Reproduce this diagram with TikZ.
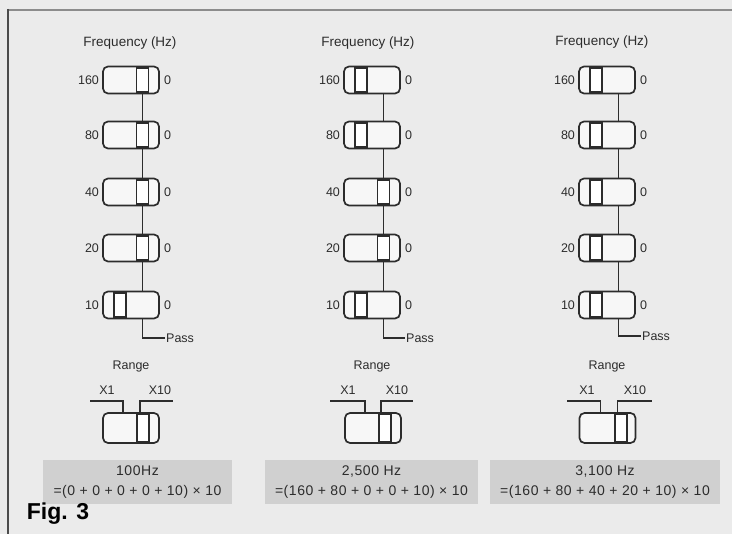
\documentclass[tikz,border=0pt]{standalone}
\usepackage{fontspec}
\setmainfont{Liberation Sans}
\usepackage{xcolor}
\usepackage{tikz}
\usetikzlibrary{positioning,calc}
\definecolor{paper}{HTML}{EBEBEB}
\definecolor{resgray}{HTML}{D0D0D0}
\definecolor{ink}{HTML}{2C2C2C}

\begin{document}
\begin{tikzpicture}[x=1pt,y=-1pt,
  sw/.style={draw=ink,line width=1.7pt,rounded corners=5pt,fill=paper!40!white,minimum width=56pt,minimum height=27pt,inner sep=0pt},
  kn/.style={draw=ink,line width=1.6pt,fill=white,minimum width=12pt,minimum height=24pt,inner sep=0pt},
  lab/.style={font=\fontsize{12.5}{14}\selectfont,text=ink,inner sep=1pt},
  head/.style={font=\fontsize{13.5}{15}\selectfont,text=ink,inner sep=1pt},
  wire/.style={draw=ink,line width=1.1pt},
  res/.style={fill=resgray,minimum height=44pt,align=center,font=\fontsize{14}{20}\selectfont\addfontfeature{LetterSpace=4},text=ink,inner sep=0pt},
  fig/.style={font=\fontsize{23}{25}\selectfont\bfseries,inner sep=0pt}]
  \useasboundingbox[fill=paper] (0,0) rectangle (732,534);
  \draw[black!45,line width=2.5pt] (7,10) -- (732,10);
  \draw[black!70,line width=2pt] (8,9) -- (8,534);

  \node[head] (ahead) at (130,43) {Frequency (Hz)};
  \foreach \v/\y/\s in {160/80/11.5,80/135/11.5,40/192/11.5,20/248/11.5,10/305/-11}{
    \node[sw] (a\v) at (131,\y) {};
    \node[kn] (ak\v) at (131+\s,\y) {};
    \node[lab,left=2pt of a\v] (al\v) {\v};
    \node[lab,right=3pt of a\v] (ar\v) {0};
  }
  \foreach \u/\l in {160/80,80/40,40/20,20/10}
    \draw[wire] ([xshift=11.5pt]a\u.south) -- ([xshift=11.5pt]a\l.north);
  \node[lab,anchor=west] (apass) at (165,338) {Pass};
  \draw[wire] ([xshift=11.5pt]a10.south) |- (apass.west);
  \node[lab] (arng) at (131,367) {Range};
  \node[sw,minimum height=30pt] (asel) at (131,428) {};
  \node[kn,minimum height=27pt] (aselk) at (143,428) {};
  \node[lab] (ax1) at (107,390) {X1};
  \node[lab] (ax10) at (160,390) {X10};
  \coordinate (ax1e) at (90,401);
  \coordinate (ax10e) at (173,401);
  \draw[wire] ([xshift=-8pt]asel.north) |- (ax1e);
  \draw[wire] ([xshift=9pt]asel.north) |- (ax10e);
  \node[res,minimum width=189pt] (asum) at (137.5,482) {100Hz\\=(0 + 0 + 0 + 0 + 10) × 10};

  \node[head] (bhead) at (368,43) {Frequency (Hz)};
  \foreach \v/\y/\s in {160/80/-11,80/135/-11,40/192/11.5,20/248/11.5,10/305/-11}{
    \node[sw] (b\v) at (372,\y) {};
    \node[kn] (bk\v) at (372+\s,\y) {};
    \node[lab,left=2pt of b\v] (bl\v) {\v};
    \node[lab,right=3pt of b\v] (br\v) {0};
  }
  \foreach \u/\l in {160/80,80/40,40/20,20/10}
    \draw[wire] ([xshift=11.5pt]b\u.south) -- ([xshift=11.5pt]b\l.north);
  \node[lab,anchor=west] (bpass) at (405,338) {Pass};
  \draw[wire] ([xshift=11.5pt]b10.south) |- (bpass.west);
  \node[lab] (brng) at (372,367) {Range};
  \node[sw,minimum height=30pt] (bsel) at (373,428) {};
  \node[kn,minimum height=27pt] (bselk) at (385,428) {};
  \node[lab] (bx1) at (348,390) {X1};
  \node[lab] (bx10) at (397,390) {X10};
  \coordinate (bx1e) at (330,401);
  \coordinate (bx10e) at (413,401);
  \draw[wire] ([xshift=-8pt]bsel.north) |- (bx1e);
  \draw[wire] ([xshift=8pt]bsel.north) |- (bx10e);
  \node[res,minimum width=213pt] (bsum) at (371.5,482) {2,500 Hz\\=(160 + 80 + 0 + 0 + 10) × 10};

  \node[head] (chead) at (602,42) {Frequency (Hz)};
  \foreach \v/\y/\s in {160/80/-11,80/135/-11,40/192/-11,20/248/-11,10/305/-11}{
    \node[sw] (c\v) at (607,\y) {};
    \node[kn] (ck\v) at (607+\s,\y) {};
    \node[lab,left=2pt of c\v] (cl\v) {\v};
    \node[lab,right=3pt of c\v] (cr\v) {0};
  }
  \foreach \u/\l in {160/80,80/40,40/20,20/10}
    \draw[wire] ([xshift=11.5pt]c\u.south) -- ([xshift=11.5pt]c\l.north);
  \node[lab,anchor=west] (cpass) at (641,336) {Pass};
  \draw[wire] ([xshift=11.5pt]c10.south) |- (cpass.west);
  \node[lab] (crng) at (607,367) {Range};
  \node[sw,minimum height=30pt] (csel) at (607.5,428) {};
  \node[kn,minimum height=27pt] (cselk) at (621,428) {};
  \node[lab] (cx1) at (587,390) {X1};
  \node[lab] (cx10) at (635,390) {X10};
  \coordinate (cx1e) at (567,401);
  \coordinate (cx10e) at (652,401);
  \draw[wire] ([xshift=-7pt]csel.north) |- (cx1e);
  \draw[wire] ([xshift=10pt]csel.north) |- (cx10e);
  \node[res,minimum width=230pt] (csum) at (605,482) {3,100 Hz\\=(160 + 80 + 40 + 20 + 10) × 10};

  \node[fig] (fig) at (58,514) {Fig. 3};
\end{tikzpicture}
\end{document}
